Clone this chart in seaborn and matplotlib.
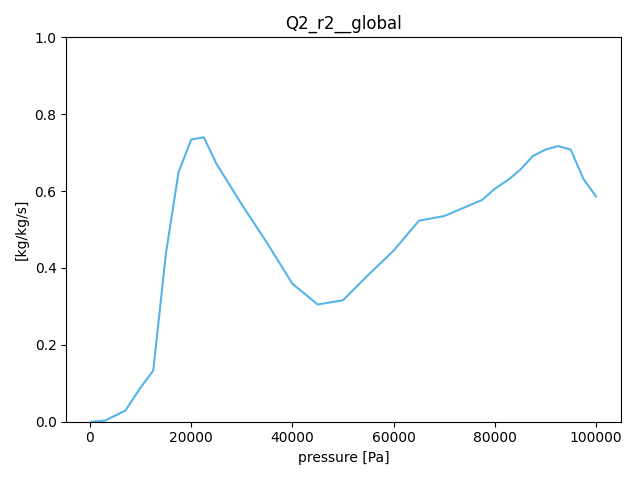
import matplotlib
matplotlib.use("Agg")
import matplotlib.pyplot as plt
import seaborn as sns
import pandas as pd

pressure = [300, 3000, 7000, 10000, 12500, 15000, 17500, 20000, 22500, 25000,
            30000, 35000, 40000, 45000, 50000, 55000, 60000, 65000, 70000,
            75000, 77500, 80000, 82500, 85000, 87500, 90000, 92500, 95000,
            97500, 100000]
values = [0.0, 0.003, 0.029, 0.089, 0.133, 0.437, 0.649, 0.734, 0.740, 0.671,
          0.565, 0.465, 0.359, 0.305, 0.316, 0.382, 0.445, 0.523, 0.535,
          0.563, 0.577, 0.606, 0.628, 0.655, 0.691, 0.708, 0.717, 0.708,
          0.632, 0.586]

df = pd.DataFrame({"pressure": pressure, "value": values})

fig, ax = plt.subplots(figsize=(6.4, 4.8), dpi=100)
sns.lineplot(data=df, x="pressure", y="value", ax=ax, color="#56B4E9")
ax.set_ylim(0, 1.0)
ax.set_title("Q2_r2__global")
ax.set_xlabel("pressure [Pa]")
ax.set_ylabel("[kg/kg/s]")
fig.tight_layout()
fig.savefig("out.png")
